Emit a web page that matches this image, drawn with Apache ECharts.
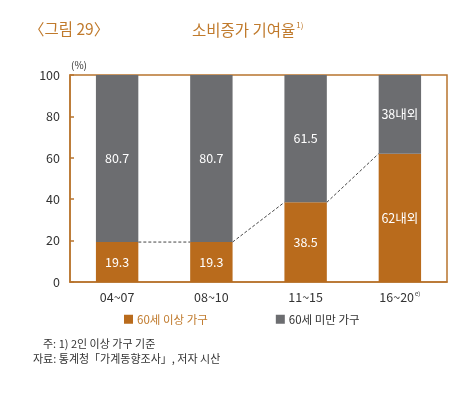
<!DOCTYPE html>
<html><head><meta charset="utf-8">
<script src="https://cdn.jsdelivr.net/npm/echarts@6/dist/echarts.min.js"></script>
<style>html,body{margin:0;padding:0;background:#fff}#c{width:474px;height:393px}</style>
</head><body><div id="c"></div>
<script>
const categories = ['04~07', '08~10', '11~15', '16~20'];
const senior = [19.3, 19.3, 38.5, 62];
const nonSenior = [80.7, 80.7, 61.5, 38];
const seniorLabels = ['19.3', '19.3', '38.5', '62내외'];
const nonSeniorLabels = ['80.7', '80.7', '61.5', '38내외'];
const yTicks = [0, 20, 40, 60, 80, 100];

const ORANGE = '#B96B1C';
const GRAY = '#6C6D70';
const FRAME = '#B8742E';
const FONT = '"Noto Sans CJK KR", "Noto Sans", sans-serif';
const BARW = 0.45;

const chart = echarts.init(document.getElementById('c'));
chart.setOption({
  animation: false,
  textStyle: { fontFamily: FONT },
  title: [
    { text: '〈그림 29〉', left: 24, top: 16, textStyle: { color: '#C07A2C', fontSize: 15.5, fontWeight: 'normal', fontFamily: FONT } },
    { text: '소비증가 기여율{s|1)}', left: 187, top: 16, textStyle: { color: '#C07A2C', fontSize: 15.5, fontWeight: 'normal', fontFamily: FONT,
        rich: { s: { fontSize: 8, color: '#C07A2C', verticalAlign: 'top', padding: [0, 0, 10, 1] } } } },
    { text: '(%)', left: 66, top: 55, textStyle: { color: '#333', fontSize: 10, fontWeight: 'normal', fontFamily: FONT } }
  ],
  grid: { left: 70, right: 27, top: 75, bottom: 111, show: true, borderColor: FRAME, borderWidth: 1.5, containLabel: false },
  legend: {
    bottom: 63, left: 119, itemGap: 68, itemWidth: 9, itemHeight: 9, icon: 'rect',
    data: [
      { name: '60세 이상 가구', textStyle: { color: '#C07A2C' } },
      { name: '60세 미만 가구', textStyle: { color: '#333' } }
    ],
    textStyle: { fontSize: 11.5, fontFamily: FONT, padding: [0, 0, 0, -1] }
  },
  graphic: [
    { type: 'text', left: 43, top: 338, style: { text: '주: 1) 2인 이상 가구 기준', fill: '#333', font: '11px ' + FONT } },
    { type: 'text', left: 33, top: 353, style: { text: '자료: 통계청「가계동향조사」, 저자 시산', fill: '#333', font: '11px ' + FONT } }
  ],
  xAxis: {
    type: 'category', data: categories,
    axisLine: { lineStyle: { color: FRAME, width: 1.5 } },
    axisTick: { show: false },
    axisLabel: { color: '#333', fontSize: 12.5, margin: 9, fontFamily: FONT,
      formatter: (v, i) => i === 3 ? v + '{s|e)}' : v,
      rich: { s: { fontSize: 6, verticalAlign: 'top', padding: [0, 0, 7, 1], color: '#333' } } }
  },
  yAxis: {
    type: 'value', min: 0, max: 100, interval: 20,
    axisLine: { show: true, lineStyle: { color: FRAME, width: 1.5 } },
    axisTick: { show: true, inside: true, length: 4, lineStyle: { color: FRAME, width: 1.5 } },
    splitLine: { show: false },
    axisLabel: { color: '#333', fontSize: 12.5, margin: 10, fontFamily: FONT,
      formatter: v => yTicks.indexOf(v) >= 0 ? String(v) : '' }
  },
  series: [
    { name: '60세 이상 가구', type: 'bar', stack: 's', data: senior, barWidth: (BARW * 100) + '%',
      itemStyle: { color: ORANGE },
      label: { show: true, position: 'inside', color: '#fff', fontSize: 12.5, fontFamily: FONT, formatter: p => seniorLabels[p.dataIndex] } },
    { name: '60세 미만 가구', type: 'bar', stack: 's', data: nonSenior,
      itemStyle: { color: GRAY },
      label: { show: true, position: 'inside', color: '#fff', fontSize: 12.5, fontFamily: FONT, formatter: p => nonSeniorLabels[p.dataIndex] } },
    { name: 'conn', type: 'custom', data: senior.slice(0, -1).map((v, i) => [i, v, senior[i + 1]]),
      silent: true, z: 5,
      renderItem: (params, api) => {
        const i = api.value(0);
        const p1 = api.coord([i, api.value(1)]);
        const p2 = api.coord([i + 1, api.value(2)]);
        const bw = api.size([1, 0])[0] * BARW / 2;
        return { type: 'line', shape: { x1: p1[0] + bw, y1: p1[1], x2: p2[0] - bw, y2: p2[1] },
          style: { stroke: '#444', lineWidth: 1, lineDash: [3, 2] } };
      },
      encode: { x: 0, y: 1 }
    }
  ]
});
</script></body></html>
